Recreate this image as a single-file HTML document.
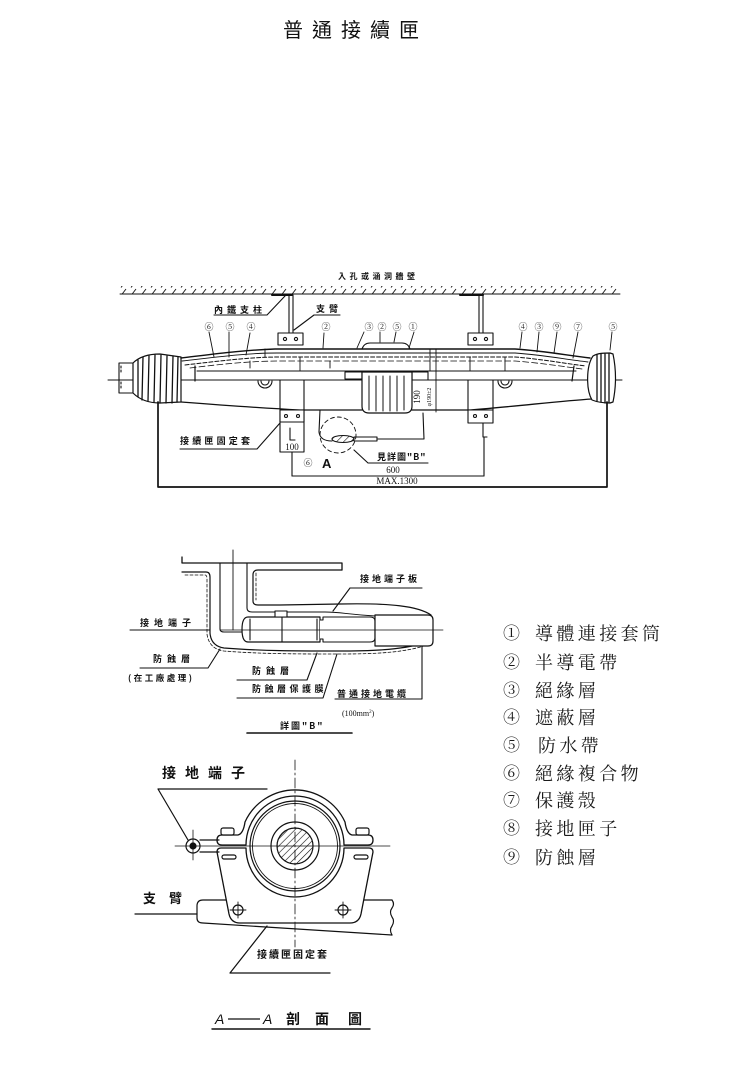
<!DOCTYPE html>
<html><head><meta charset="utf-8"><style>
html,body{margin:0;padding:0;background:#fff;}
svg{display:block;}
</style></head><body>
<svg width="754" height="1068" viewBox="0 0 754 1068" xmlns="http://www.w3.org/2000/svg">
<defs>
<pattern id="hatch" width="10" height="8" patternUnits="userSpaceOnUse"><line x1="1" y1="7.5" x2="6" y2="1" stroke="#111" stroke-width="0.9"/></pattern>
<pattern id="diag" width="5" height="5" patternUnits="userSpaceOnUse" patternTransform="rotate(45)"><line x1="0" y1="0" x2="0" y2="5" stroke="#111" stroke-width="1.2"/></pattern>
</defs>
<rect width="754" height="1068" fill="#fff"/>

<!-- Title -->
<text x="283" y="37" font-size="20" letter-spacing="9" font-family="'Noto Sans CJK TC','Noto Sans CJK SC',sans-serif" fill="#111">普通接續匣</text>

<g fill="none" stroke="#111" stroke-width="1.1" stroke-linecap="round" stroke-linejoin="round">
<!-- ceiling -->
<rect x="120" y="286" width="500" height="8" fill="url(#hatch)" stroke="none"/>
<line x1="120" y1="294" x2="620" y2="294" stroke-width="0.9"/>

<!-- hangers -->
<path d="M272,295 L292,295" stroke-width="2"/>
<path d="M289,295 L289,334 M293,295 L293,334" stroke-width="1.1"/>
<rect x="278" y="333" width="25" height="12" fill="#fff"/>
<circle cx="285" cy="339" r="1.6"/><circle cx="296" cy="339" r="1.6"/>
<path d="M460,295 L483,295" stroke-width="2"/>
<path d="M479,295 L479,334 M483,295 L483,334" stroke-width="1.1"/>
<rect x="468" y="333" width="25" height="12" fill="#fff"/>
<circle cx="475" cy="339" r="1.6"/><circle cx="486" cy="339" r="1.6"/>

<!-- leaders for top labels -->
<path d="M214,315 L267,315 L285,296"/>
<path d="M340,315 L314,315 L294,330"/>
<path d="M209,332 L214,357 M229,332 L229,357 M250,333 L246,355 M324,333 L323,348 M364,332 L357,348 M380,332 L380,342 M396,332 L394,342 M414,332 L409,348 M522,332 L520,348 M539,332 L537,352 M557,332 L554,353 M578,332 L573,358 M612,332 L610,350" stroke-width="0.9"/>

<!-- axis -->
<line x1="108" y1="380" x2="622" y2="380" stroke-width="1"/>

<!-- left end -->
<path d="M133,363 L119,363 L119,393 L133,393" />
<path d="M121,366 L121,372 M121,382 L121,390" stroke-dasharray="2 2"/>
<path d="M133,363 C140,356 150,354 160,354 L181,357 L181,402 L160,403 C150,403 140,400 133,393 Z" fill="#fff" stroke-width="1.2"/>
<path d="M138,360 L138,397 M143,357 L142,400 M149,356 L148,401 M155,355 L154,402 M161,355 L160,403 M167,356 L166,403 M173,356 L172,403 M178,357 L177,402" stroke-width="1.3"/>

<!-- body outlines -->
<path d="M181,358 C215,354 245,350 275,349 L515,349 C545,351 565,355 590,358" stroke-width="1.4"/>
<path d="M182,361 C218,357 247,353 277,353 L515,353 C543,355 563,359 588,362" stroke-width="0.9"/>
<path d="M185,365 C220,361 250,357 280,357 L515,357 C541,359 561,363 586,366" stroke-dasharray="4 2" stroke-width="1"/>
<path d="M190,368 C222,364 252,361 280,361 L515,361 C540,363 560,366 582,369" stroke-dasharray="6 3" stroke-width="0.8"/>
<path d="M197,371 L576,371" stroke-width="1.1"/>
<path d="M195,366 L195,381 M574,366 L572,381" stroke-width="1.2"/>
<path d="M265,349 L265,357 M300,357 L300,371 M330,361 L330,368 M430,349 L430,371 M470,357 L470,371 M505,357 L505,371 M250,361 L250,368" stroke-width="0.9"/>
<path d="M362,349 Q364,343 370,343 L402,343 Q408,343 410,349" stroke-width="1.1"/>
<path d="M181,402 C220,405 260,408 300,410 L362,410 M412,410 L470,410 C520,406 560,401 592,399" stroke-width="1.3"/>

<!-- right end bulb -->
<path d="M593,356 C598,353 604,353 610,353 L613,354 Q618,378 613,402 L610,403 C603,403 597,402 592,400 C586,390 586,366 593,356 Z" fill="#fff" stroke-width="1.2"/>
<path d="M597,355 L597,401 M601,354 L601,402 M605,354 L605,403 M609,354 L609,403" stroke-width="1.3"/>

<!-- sleeve and bumps -->
<rect x="345" y="372" width="17" height="7" fill="#fff"/>
<rect x="412" y="372" width="16" height="8" fill="#fff"/>
<path d="M362,372 L362,406 Q362,413 369,413 L405,413 Q412,413 412,406 L412,372 Z" fill="#fff" stroke-width="1.2"/>
<path d="M369,376 L369,410 M376,376 L376,411 M383,376 L383,411 M390,376 L390,411 M397,376 L397,411 M404,376 L404,410" stroke-width="1"/>
<line x1="436" y1="349" x2="436" y2="412" stroke-width="0.9"/>

<!-- washers -->
<path d="M258,381 A7,7 0 0 0 272,381 M261,381 A4,4 0 0 0 269,381"/>
<path d="M498,381 A7,7 0 0 0 512,381 M501,381 A4,4 0 0 0 509,381"/>

<!-- lower brackets -->
<path d="M280,380 L280,452 L304,452 L304,380"/>
<rect x="280" y="410" width="24" height="12" fill="#fff"/>
<circle cx="286" cy="416" r="1.5"/><circle cx="298" cy="416" r="1.5"/>
<path d="M290,428 L290,440 L295,440"/>
<line x1="292" y1="452" x2="292" y2="476"/>
<path d="M468,380 L468,410 M493,380 L493,410"/>
<rect x="468" y="410" width="25" height="13" fill="#fff"/>
<circle cx="475" cy="416" r="1.5"/><circle cx="486" cy="416" r="1.5"/>
<path d="M483,423 L483,437 L487,437"/>
<line x1="484" y1="437" x2="484" y2="476"/>

<!-- dimension lines -->
<line x1="292" y1="476" x2="484" y2="476" stroke-width="1.1"/>
<path d="M158,402 L158,487 L607,487 L607,402" stroke-width="1.7"/>

<!-- ground loop -->
<path d="M320,410 L319,432 Q320,441 332,441" stroke-width="1.1"/>
<ellipse cx="343" cy="439" rx="11" ry="3.5" fill="url(#diag)"/>
<rect x="354" y="437" width="23" height="4" fill="#fff"/>
<path d="M423,413 L424,439 L378,439"/>
<circle cx="338" cy="435" r="18" stroke-dasharray="4 3" stroke-width="0.9"/>
<path d="M354,450 L368,463 L428,463"/>
<path d="M180,449 L257,449 L280,423"/>
</g>

<g font-family="'Noto Sans CJK TC','Noto Sans CJK SC',sans-serif" font-weight="bold" fill="#111">
<text x="338" y="279" font-size="8" letter-spacing="3.5">入孔或涵洞牆壁</text>
<text x="214" y="313" font-size="9" letter-spacing="4">內鐵支柱</text>
<text x="316" y="312" font-size="9" letter-spacing="4">支臂</text>
<text x="180" y="444" font-size="9" letter-spacing="3.2">接續匣固定套</text>
<text x="377" y="460" font-size="9" letter-spacing="1">見詳圖"B"</text>
</g>
<g font-family="'Noto Serif CJK SC',serif" font-size="9" fill="#111" text-anchor="middle">
<text x="209" y="330">⑥</text><text x="230" y="330">⑤</text><text x="251" y="330">④</text>
<text x="326" y="330">②</text>
<text x="369" y="330">③</text><text x="382" y="330">②</text><text x="397" y="330">⑤</text><text x="413" y="330">①</text>
<text x="523" y="330">④</text><text x="539" y="330">③</text><text x="557" y="330">⑨</text><text x="578" y="330">⑦</text>
<text x="613" y="330">⑤</text>
<text x="308" y="466">⑥</text>
</g>
<g font-family="'Liberation Serif',serif" fill="#111" text-anchor="middle">
<text x="292" y="450" font-size="9">100</text>
<text x="393" y="473" font-size="9">600</text>
<text x="397" y="484" font-size="9">MAX.1300</text>
<text transform="translate(420,397) rotate(-90)" font-size="9">190</text>
<text transform="translate(431,397) rotate(-90)" font-size="6">φ190±2</text>
</g>
<text x="322" y="468" font-family="'Liberation Sans',sans-serif" font-weight="bold" font-size="13" fill="#111">A</text>

<!-- Detail B -->
<g fill="none" stroke="#111" stroke-width="1.1" stroke-linecap="round" stroke-linejoin="round">
<path d="M182,557 L182,563 L342,563 L342,570" stroke-width="1.3"/>
<line x1="233" y1="550" x2="233" y2="630" stroke-width="0.9"/>
<path d="M182,572 L206,572 Q210,572 210,577 L210,633 Q211,646 224,648 C260,651 300,651 337,651 C375,651 405,650 430,641" stroke-width="1.2"/>
<path d="M185,575 L205,575 Q207,575 207,579 L207,634 Q209,649 224,651 C260,654 300,654 337,654 C375,654 408,653 432,643" stroke-dasharray="3 2" stroke-width="0.8"/>
<path d="M220,563 L220,629 Q220,632 224,632 L242,632"/>
<path d="M247,563 L247,608 Q247,612 252,612 L275,612"/>
<path d="M342,570 L258,570 Q253,570 253,575 L253,601 Q253,605 258,605 L280,605 L340,604 C390,603 418,606 431,615" stroke-width="1.2"/>
<path d="M256,573 L256,600" stroke-dasharray="3 2" stroke-width="0.8"/>
<path d="M287,612 L325,612 C340,612 345,614 375,616" stroke-width="0.9"/>
<path d="M248,617 L320,617 L320,642 L248,642 Q242,642 242,629.5 Q242,617 248,617 Z" fill="#fff" stroke-width="1.2"/>
<path d="M250,619 L250,640 M317,619 L317,640 M282,617 L282,642"/>
<rect x="275" y="611" width="12" height="6" fill="#fff"/>
<path d="M320,620 L323,620 L323,617 L370,617 Q375,617 375,621 L375,638 Q375,642 370,642 L323,642 L323,639 L320,639" fill="#fff"/>
<path d="M375,615 L428,615 Q433,615 433,620 L433,641 Q433,646 428,646 L375,646 Z" fill="#fff" stroke-width="1.2"/>
<line x1="220" y1="630" x2="443" y2="630" stroke-width="0.8"/>
<path d="M350,588 L422,588 M350,588 L333,611"/>
<path d="M130,630 L210,630"/>
<path d="M140,668 L208,668 L220,649"/>
<path d="M237,680 L307,680 L317,653"/>
<path d="M237,698 L323,698 L337,654"/>
<path d="M335,699 L422,699 L422,646"/>
<path d="M247,733 L352,733" stroke-width="1.6"/>
</g>
<g font-family="'Noto Sans CJK TC','Noto Sans CJK SC',sans-serif" font-weight="bold" fill="#111" font-size="9">
<text x="360" y="582" letter-spacing="3">接地端子板</text>
<text x="140" y="626" letter-spacing="5">接地端子</text>
<text x="153" y="662" letter-spacing="5">防蝕層</text>
<text x="128" y="681" letter-spacing="2.5" font-size="8.5">(在工廠處理)</text>
<text x="252" y="674" letter-spacing="5">防蝕層</text>
<text x="252" y="692" letter-spacing="3.5">防蝕層保護膜</text>
<text x="337" y="697" letter-spacing="3">普通接地電纜</text>
<text x="280" y="729" letter-spacing="2">詳圖"B"</text>
</g>
<text x="342" y="716" font-family="'Liberation Serif',serif" font-size="8" fill="#111">(100mm<tspan font-size="5" dy="-3">2</tspan><tspan dy="3">)</tspan></text>

<!-- A-A section -->
<g fill="none" stroke="#111" stroke-width="1.2" stroke-linecap="round" stroke-linejoin="round">
<path d="M158,789 L267,789 M158,789 L188,840"/>
<!-- arm -->
<path d="M203,900 L392,900 M203,900 Q197,900 197,906 L197,918 Q197,923 203,923 L392,935" stroke-width="1.2"/>
<path d="M392,900 q3,4 0,8 q-3,4 0,9 q3,4 0,9 q-3,4 0,9" />
<path d="M135,914 L197,914"/>
<!-- holder -->
<path d="M246,848 L221,848 Q217,848 217,852 L229,914 Q231,923 240,923 L350,923 Q359,923 361,914 L373,852 Q373,848 369,848 L344,848 A49,49 0 0 1 246,848 Z" fill="#fff" stroke-width="1.3"/>
<rect x="222" y="855" width="14" height="4" rx="2"/>
<rect x="354" y="855" width="14" height="4" rx="2"/>
<circle cx="238" cy="910" r="5"/><circle cx="343" cy="910" r="5"/>
<path d="M230,910 L246,910 M238,902 L238,918 M335,910 L351,910 M343,902 L343,918" stroke-width="0.9"/>
<!-- upper clamp -->
<path d="M222,835 L238,835 C242,834 244,829 245,822 A55,55 0 0 1 345,822 C346,829 348,834 352,835 L368,835 Q373,835 373,840 Q373,845 368,845 L344,845 A49,49 0 0 0 246,845 L222,845 Q217,845 217,840 Q217,835 222,835 Z" fill="#fff" stroke-width="1.3"/>
<rect x="221" y="828" width="13" height="7" rx="2" fill="#fff"/>
<rect x="356" y="828" width="13" height="7" rx="2" fill="#fff"/>
<!-- cable -->
<circle cx="295" cy="846" r="45"/>
<circle cx="295" cy="846" r="42.5" stroke-width="0.9"/>
<circle cx="295" cy="846" r="24"/>
<circle cx="295" cy="846" r="18" fill="url(#diag)"/>
<!-- ground terminal -->
<path d="M200,840 L219,840 M200,852 L219,852"/>
<circle cx="193" cy="846" r="7" fill="#fff"/>
<circle cx="193" cy="846" r="3" fill="#111"/>
<!-- centerlines -->
<line x1="295" y1="760" x2="295" y2="947" stroke-width="0.8" stroke-dasharray="10 3 2 3"/>
<line x1="175" y1="846" x2="390" y2="846" stroke-width="0.8"/>
<line x1="193" y1="830" x2="193" y2="860" stroke-width="0.8"/>
<path d="M230,973 L330,973 M230,973 L267,926"/>
<path d="M212,1029 L370,1029" stroke-width="1.4"/>
</g>
<g font-family="'Noto Sans CJK TC','Noto Sans CJK SC',sans-serif" font-weight="bold" fill="#111">
<text x="162" y="778" font-size="14" letter-spacing="9">接地端子</text>
<text x="143" y="903" font-size="13" letter-spacing="13">支臂</text>
<text x="257" y="958" font-size="10" letter-spacing="2">接續匣固定套</text>
<text x="286" y="1024" font-size="14">剖</text>
<text x="315" y="1024" font-size="14">面</text>
<text x="348" y="1024" font-size="14">圖</text>
</g>
<g font-family="'Liberation Sans',sans-serif" font-style="italic" font-size="14" fill="#111">
<text x="215" y="1024">A</text>
<text x="263" y="1024">A</text>
</g>
<line x1="228" y1="1019" x2="260" y2="1019" stroke="#111" stroke-width="1.2"/>

<!-- Legend -->
<g font-family="'Noto Serif CJK SC','Noto Serif CJK TC',serif" fill="#1a1a1a">
<g font-size="17">
<text x="503" y="639">①</text>
<text x="503" y="668">②</text>
<text x="503" y="696">③</text>
<text x="503" y="723">④</text>
<text x="503" y="751">⑤</text>
<text x="503" y="779">⑥</text>
<text x="503" y="806">⑦</text>
<text x="503" y="834">⑧</text>
<text x="503" y="863">⑨</text>
</g>
<g font-size="18" letter-spacing="3.4">
<text x="535" y="640">導體連接套筒</text>
<text x="535" y="669">半導電帶</text>
<text x="535" y="697">絕緣層</text>
<text x="535" y="724">遮蔽層</text>
<text x="538" y="752">防水帶</text>
<text x="535" y="780">絕緣複合物</text>
<text x="535" y="807">保護殼</text>
<text x="535" y="835">接地匣子</text>
<text x="535" y="864">防蝕層</text>
</g>
</g>
</svg>
</body></html>
